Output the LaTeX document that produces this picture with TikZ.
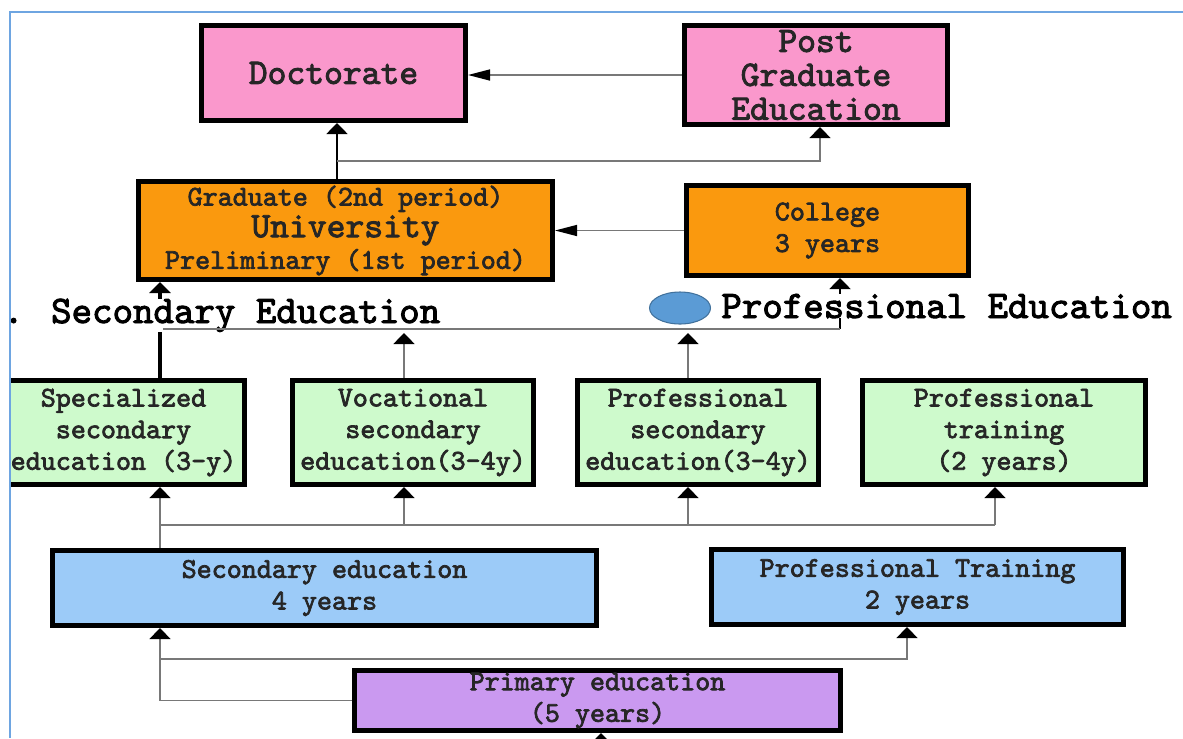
\documentclass[tikz,border=0pt]{standalone}
\usepackage{fontspec}
\newfontfamily\courfam{lmmono10-regular.otf}[FakeBold=2.5]
\usetikzlibrary{arrows.meta,shapes.geometric}
\definecolor{docpink}{RGB}{250,152,204}
\definecolor{uniorange}{RGB}{250,153,14}
\definecolor{secgreen}{RGB}{206,250,204}
\definecolor{basblue}{RGB}{156,203,248}
\definecolor{primlilac}{RGB}{202,153,240}
\definecolor{linkgray}{RGB}{120,120,120}
\definecolor{framblue}{RGB}{110,165,225}
\definecolor{blobblue}{RGB}{91,155,213}
\definecolor{blobedge}{RGB}{65,113,156}
\newcommand{\txtsmall}{\fontsize{16.3pt}{18pt}\selectfont}
\newcommand{\txtbig}{\fontsize{20.4pt}{19.3pt}\selectfont}
\newcommand{\txthead}{\fontsize{22.2pt}{24pt}\selectfont}

\begin{document}
\begin{tikzpicture}[x=0.02cm,y=-0.02cm,
    stage/.style={draw=black,line width=2.9pt,align=center,inner sep=0pt,text=black!85,font=\courfam\txtsmall},
    link/.style={draw=linkgray,line width=0.85pt},
    heavy/.style={draw=black,line width=1.2pt},
    uparrow/.style={-{Triangle[length=0.22cm,width=0.42cm,color=black]}},
    leftarrow/.style={-{Triangle[length=0.44cm,width=0.22cm,color=black]}},
    heading/.style={fill=white,inner sep=0pt,anchor=base west,font=\courfam\txthead},
    blob/.style={ellipse,fill=blobblue,draw=blobedge,line width=0.6pt,minimum width=1.22cm,minimum height=0.64cm,inner sep=0pt}
    ]
    \useasboundingbox (0,0) rectangle (1183,738);
    \begin{scope}
    \clip (10,12) rectangle (1183,738);
    % higher education
    \node [stage,fill=docpink,font=\courfam\txtbig,minimum width=5.28cm,minimum height=1.9cm] (doc) at (333.5,73) {Doctorate};
    \node [stage,fill=docpink,font=\courfam\txtbig,minimum width=5.26cm,minimum height=1.98cm] (post) at (816,75) {Post\\Graduate\\Education};
    \node [stage,fill=uniorange,minimum width=8.28cm,minimum height=1.96cm] (univ) at (345.5,230.5) {Graduate (2nd period)\\{\txtbig University}\\Preliminary (1st period)};
    \node [stage,fill=uniorange,minimum width=5.64cm,minimum height=1.8cm] (college) at (827.5,230.5) {College\\3 years};
    % secondary level
    \node [stage,fill=secgreen,minimum width=4.84cm,minimum height=2.08cm] (spec) at (123.5,432.5) {Specialized\\secondary\\education (3-y)};
    \node [stage,fill=secgreen,minimum width=4.82cm,minimum height=2.08cm] (voc) at (413,432.5) {Vocational\\secondary\\education(3-4y)};
    \node [stage,fill=secgreen,minimum width=4.82cm,minimum height=2.08cm] (profsec) at (698,432.5) {Professional\\secondary\\education(3-4y)};
    \node [stage,fill=secgreen,minimum width=5.66cm,minimum height=2.08cm] (traingrn) at (1004,432.5) {Professional\\training\\(2 years)};
    % basic level
    \node [stage,fill=basblue,minimum width=10.88cm,minimum height=1.5cm] (secedu) at (324.5,588) {Secondary education\\4 years};
    \node [stage,fill=basblue,minimum width=8.24cm,minimum height=1.5cm] (trainblu) at (917.5,587) {Professional Training\\2 years};
    \node [stage,fill=primlilac,minimum width=9.72cm,minimum height=1.2cm] (primary) at (597.5,700.5) {Primary education\\(5 years)};

    \coordinate (dA) at (160,0);
    \coordinate (dB) at (404,0);
    \coordinate (dC) at (688,0);
    \coordinate (dD) at (995,0);
    \coordinate (dE) at (840,0);
    \coordinate (dF) at (907,0);
    \coordinate (dU) at (337,0);
    \coordinate (dP) at (820,0);
    \coordinate (fork) at (337,161);
    \coordinate (busS) at (163,329);
    \coordinate (busE) at (840,329);
    \coordinate (busG) at (160,525);
    \coordinate (busP) at (160,659);
    \coordinate (below) at (601,760);

    % top connectors
    \draw [link,leftarrow] (post.west) -- (post.west -| doc.east);
    \draw [heavy,uparrow] (univ.north -| dU) -- (doc.south -| dU);
    \draw [link,uparrow] (fork) -| (post.south -| dP);
    \draw [link,leftarrow] (college.west) -- (college.west -| univ.east);
    \draw [black,line width=2.3pt,uparrow] (spec.north -| dA) -- (univ.south -| dA);
    \draw [heavy,uparrow] (busE) -- (college.south -| dE);
    \foreach \tgt/\dx in {voc/dB,profsec/dC}
        \draw [link,uparrow,shorten >=0.08cm] (\tgt.north -| \dx) -- (busS -| \dx);

    % labels over the lines
    \node [heading] (seclab) at (3,323) {. Secondary Education};
    \node [heading] (proflab) at (721,318) {Professional Education};
    \node [blob] (dot) at (680,308) {};
    \draw [link] (busS) -- (busE);

    % lower connectors
    \draw [link,uparrow] (secedu.north -| dA) -- (spec.south -| dA);
    \draw [link] (busG) -- (busG -| dD);
    \foreach \tgt/\dx in {voc/dB,profsec/dC,traingrn/dD}
        \draw [link,uparrow] (busG -| \dx) -- (\tgt.south -| \dx);
    \draw [link,uparrow] (primary.west) -| (secedu.south -| dA);
    \draw [link,uparrow] (busP) -| (trainblu.south -| dF);
    \draw [link,uparrow] (below) -- (primary.south -| below);
    \end{scope}
    \draw [framblue,line width=0.9pt] (1183,12) -- (10,12) -- (10,738);
\end{tikzpicture}
\end{document}
